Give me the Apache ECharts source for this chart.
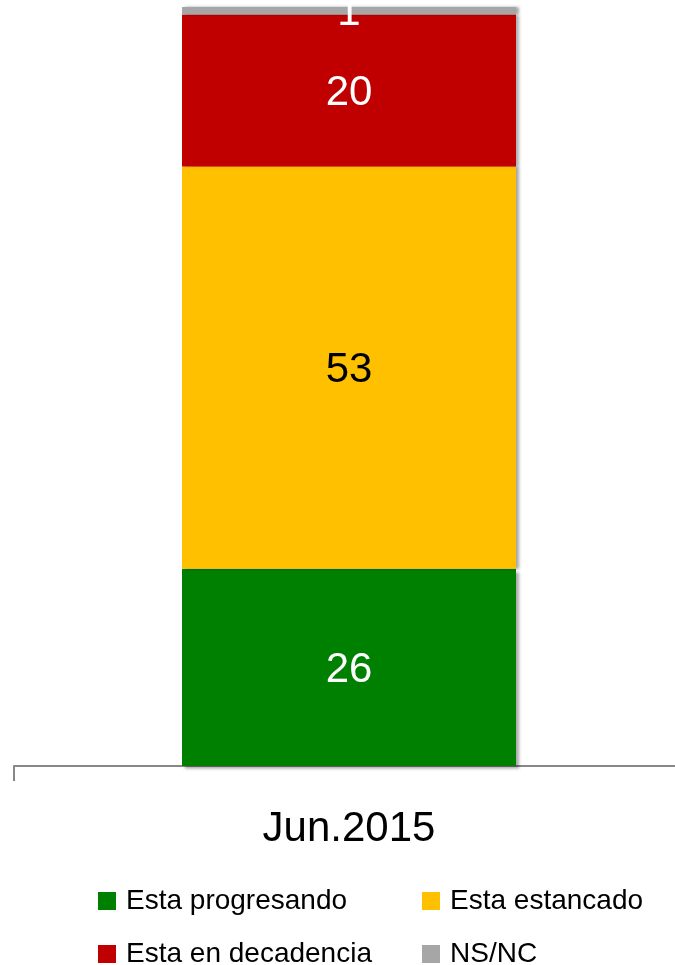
<!DOCTYPE html>
<html>
<head>
<meta charset="utf-8">
<script src="https://cdn.jsdelivr.net/npm/echarts@6/dist/echarts.min.js"></script>
<style>html,body{margin:0;padding:0;background:#fff}#c{width:675px;height:965px}</style>
</head>
<body>
<div id="c"></div>
<script>
const categories = ['Jun.2015'];
const seriesNames = ['Esta progresando', 'Esta estancado', 'Esta en decadencia', 'NS/NC'];
const progresando = [26];
const estancado = [53];
const decadencia = [20];
const nsnc = [1];

const colors = ['#008000', '#FFC000', '#C00000', '#A6A6A6'];
const labelColors = ['#ffffff', '#000000', '#ffffff', '#ffffff'];
const values = [progresando, estancado, decadencia, nsnc];

const chart = echarts.init(document.getElementById('c'), null, {renderer: 'canvas'});

const series = values.map((v, i) => ({
  name: seriesNames[i],
  type: 'bar',
  stack: 'total',
  barWidth: 334,
  data: v,
  itemStyle: {
    color: colors[i],
    shadowColor: 'rgba(0,0,0,0.35)',
    shadowBlur: 3,
    shadowOffsetX: 3,
    shadowOffsetY: i === 0 ? 3 : 0
  },
  label: {
    show: true,
    position: 'inside',
    offset: [0, 3],
    color: labelColors[i],
    fontFamily: 'Liberation Sans, sans-serif',
    fontSize: 42
  },
  emphasis: {disabled: true}
}));

const legendPos = [
  {left: 98, top: 887},
  {left: 422, top: 887},
  {left: 98, top: 940},
  {left: 422, top: 940}
];

chart.setOption({
  animation: false,
  grid: {left: 14, width: 670, top: 7, bottom: 199, containLabel: false, outerBoundsMode: 'none'},
  xAxis: {
    type: 'category',
    data: categories,
    axisLine: {show: true, lineStyle: {color: '#888888', width: 2}},
    axisTick: {show: true, length: 15, lineStyle: {color: '#888888', width: 2}},
    axisLabel: {
      color: '#000',
      fontFamily: 'Liberation Sans, sans-serif',
      fontSize: 42,
      margin: 42
    }
  },
  yAxis: {
    type: 'value',
    min: 0,
    max: 100,
    show: false,
    splitLine: {show: false}
  },
  legend: seriesNames.map((n, i) => ({
    data: [n],
    left: legendPos[i].left,
    top: legendPos[i].top,
    padding: 0,
    itemWidth: 18,
    itemHeight: 18,
    icon: 'rect',
    selectedMode: false,
    textStyle: {color: '#000', fontFamily: 'Liberation Sans, sans-serif', fontSize: 28, padding: [0, 0, 0, 5]}
  })),
  series: series
});
</script>
</body>
</html>
